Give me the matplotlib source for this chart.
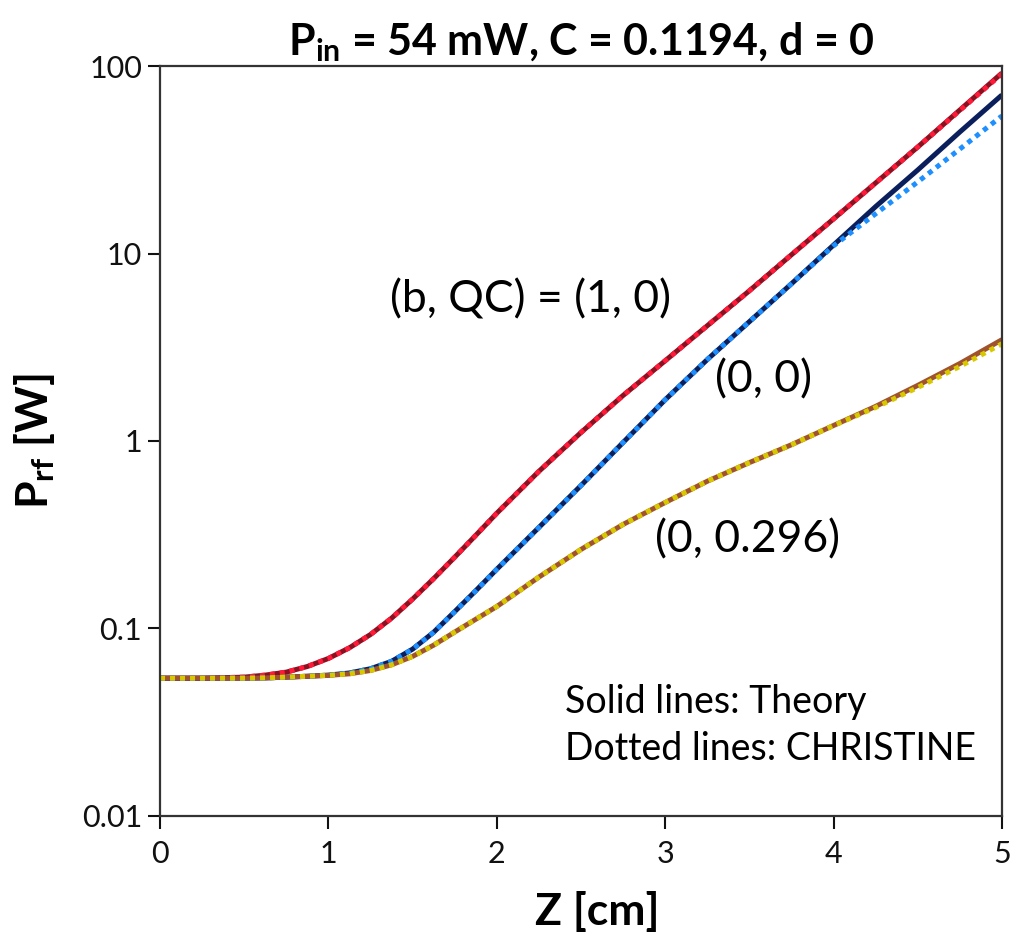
import numpy as np
import matplotlib
matplotlib.use('Agg')
import matplotlib.pyplot as plt

# position along the tube [cm]
z = [0, 0.25, 0.5, 0.625, 0.75, 0.875, 1.0, 1.125, 1.25, 1.375, 1.5, 1.625, 1.75, 1.875,
     2.0, 2.25, 2.5, 2.75, 3.0, 3.25, 3.5, 3.75, 4.0, 4.25, 4.5, 4.75, 5.0]

# (b, QC) = (1, 0)
theory_b1 = [0.0543, 0.0543, 0.0550, 0.0564, 0.0585, 0.0627, 0.0692, 0.0789, 0.0929, 0.1135,
             0.1435, 0.1845, 0.240, 0.314, 0.412, 0.689, 1.11, 1.75, 2.68, 4.12, 6.33, 9.85,
             15.3, 23.8, 37.0, 58.3, 91.8]
christine_b1 = [0.0543, 0.0543, 0.0550, 0.0564, 0.0585, 0.0627, 0.0692, 0.0789, 0.0929, 0.1135,
                0.1435, 0.1845, 0.240, 0.314, 0.412, 0.689, 1.11, 1.75, 2.68, 4.12, 6.33, 9.85,
                15.3, 23.8, 37.0, 58.0, 91.0]

# (0, 0)
theory_00 = [0.0543, 0.0543, 0.0543, 0.0545, 0.0550, 0.0556, 0.0564, 0.0579, 0.0610, 0.0668,
             0.0776, 0.0955, 0.123, 0.159, 0.207, 0.346, 0.579, 0.982, 1.66, 2.72, 4.33, 6.90,
             11.1, 17.8, 27.9, 44.5, 70.1]
christine_00 = [0.0543, 0.0543, 0.0543, 0.0545, 0.0550, 0.0556, 0.0564, 0.0579, 0.0610, 0.0668,
                0.0776, 0.0955, 0.123, 0.159, 0.207, 0.346, 0.579, 0.982, 1.66, 2.72, 4.33, 6.90,
                11.0, 16.3, 24.1, 36.1, 54.2]

# (0, 0.296)
theory_qc = [0.0543, 0.0543, 0.0543, 0.0545, 0.0550, 0.0556, 0.0562, 0.0573, 0.0597, 0.0640,
             0.0710, 0.0815, 0.0957, 0.112, 0.131, 0.188, 0.264, 0.359, 0.470, 0.610, 0.767,
             0.955, 1.21, 1.53, 1.98, 2.59, 3.47]
christine_qc = [0.0543, 0.0543, 0.0543, 0.0545, 0.0550, 0.0556, 0.0562, 0.0573, 0.0597, 0.0640,
                0.0710, 0.0815, 0.0957, 0.112, 0.131, 0.188, 0.264, 0.359, 0.470, 0.610, 0.767,
                0.955, 1.21, 1.51, 1.93, 2.50, 3.30]

yticks = [0.01, 0.1, 1, 10, 100]
ytick_labels = ['0.01', '0.1', '1', '10', '100']

plt.rcParams['font.family'] = ['Lato', 'DejaVu Sans']
plt.rcParams['mathtext.fontset'] = 'custom'
plt.rcParams['mathtext.rm'] = 'Lato'
plt.rcParams['mathtext.bf'] = 'Lato:bold'

fig = plt.figure(figsize=(10.22, 9.42), dpi=100)
ax = fig.add_axes([0.1566, 0.1338, 0.8238, 0.7961])

# solid = theory (underneath), dotted = CHRISTINE (on top)
lw = 3.6
ax.plot(z, theory_b1, color='#8b1020', lw=lw, solid_capstyle='butt')
ax.plot(z, theory_00, color='#0a1f5c', lw=lw, solid_capstyle='butt')
ax.plot(z, theory_qc, color='#a0522d', lw=lw, solid_capstyle='butt')
ax.plot(z, christine_b1, color='#ff1a3a', lw=lw, linestyle=(0, (1, 1)))
ax.plot(z, christine_00, color='#1e8fff', lw=lw, linestyle=(0, (1, 1)))
ax.plot(z, christine_qc, color='#d8c800', lw=lw, linestyle=(0, (1, 1)))

ax.set_yscale('log')
ax.set_xlim(0, 5)
ax.set_ylim(0.01, 100)
ax.set_yticks(yticks)
ax.set_yticklabels(ytick_labels)
ax.yaxis.set_minor_locator(matplotlib.ticker.NullLocator())
ax.set_xticks([0, 1, 2, 3, 4, 5])

ax.tick_params(direction='out', length=9, width=1.5, labelsize=22, colors='#111111')
ax.tick_params(axis='x', pad=8)
ax.tick_params(axis='y', pad=4)
for sp in ax.spines.values():
    sp.set_linewidth(1.6)
    sp.set_color('#333333')

ax.set_xlabel('Z [cm]', fontsize=32, fontweight='bold')
ax.xaxis.set_label_coords(0.519, -0.10)
ax.set_ylabel(r'$\mathbf{P_{rf}}$ [W]', fontsize=32, fontweight='bold')
ax.yaxis.set_label_coords(-0.122, 0.5)
ax.set_title(r'$\mathbf{P_{in}}$ = 54 mW, C = 0.1194, d = 0', fontsize=31, fontweight='bold', pad=8)

ax.text(1.366, 5.68, '(b, QC) = (1, 0)', fontsize=32, va='center')
ax.text(3.296, 2.13, '(0, 0)', fontsize=32, va='center')
ax.text(2.94, 0.298, '(0, 0.296)', fontsize=32, va='center')
ax.text(2.405, 0.0405, 'Solid lines: Theory', fontsize=27, va='center')
ax.text(2.405, 0.0228, 'Dotted lines: CHRISTINE', fontsize=27, va='center')

fig.savefig('out.png', dpi=100)
